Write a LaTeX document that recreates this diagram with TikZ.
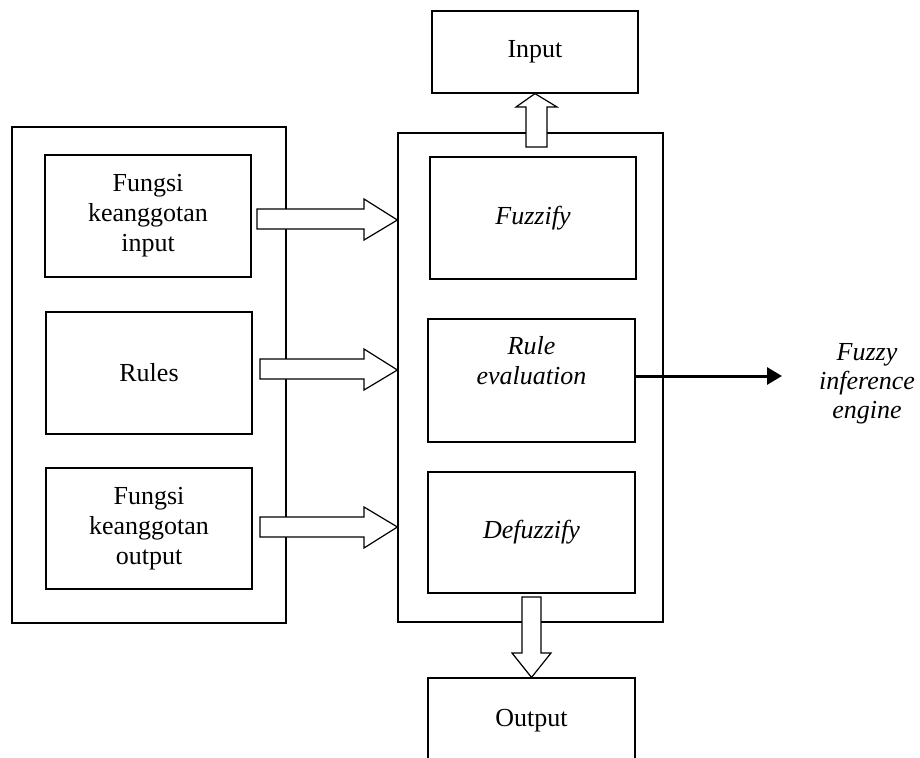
\documentclass[tikz,border=0pt]{standalone}
\usepackage{fontspec}
\setmainfont{Liberation Serif}
\usetikzlibrary{arrows.meta}
\begin{document}
\begin{tikzpicture}[x=1pt,y=-1pt,
  box/.style={draw,line width=1.2pt,inner sep=0pt,align=center,font=\fontsize{26}{30}\selectfont},
  lbl/.style={inner sep=0pt,align=center,font=\fontsize{26}{30}\selectfont},
  blockarrow/.style={draw,line width=1.2pt,fill=white,line join=miter},
  thickarrow/.style={line width=3pt,-{Triangle[length=15pt,width=17pt]}}]
\clip (0,0) rectangle (920,757);
\fill[white] (0,0) rectangle (920,757);
% outer frames
\node[box,minimum width=274pt,minimum height=496pt] (outerL) at (149,375) {};
\node[box,minimum width=265pt,minimum height=489pt] (outerR) at (530.5,377.5) {};
% left inner boxes
\node[box,minimum width=206pt,minimum height=122pt] (fin) at (148,216) {Fungsi\\keanggotan\\input};
\node[box,minimum width=206pt,minimum height=122pt] (rules) at (149,373) {Rules};
\node[box,minimum width=206pt,minimum height=121pt] (fout) at (149,528.5) {Fungsi\\keanggotan\\output};
% right inner boxes
\node[box,minimum width=206pt,minimum height=122pt] (fz) at (533,218) {\itshape Fuzzify};
\node[box,minimum width=207pt,minimum height=123pt] (re) at (531.5,380.5) {};
\node[lbl] (retext) at (531.5,361) {\itshape Rule\\\itshape evaluation};
\node[box,minimum width=207pt,minimum height=121pt] (df) at (531.5,532.5) {\itshape Defuzzify};
% input / output
\node[box,minimum width=206pt,minimum height=82pt] (in) at (535,52) {Input};
\node[box,minimum width=207pt,minimum height=100pt] (out) at (531.5,728) {};
\node[lbl] (outtext) at (531.5,721) {Output};
% block arrows left -> right
\draw[blockarrow] (257,209) -- (364,209) -- (364,199) -- (outerR.west |- 0,220) -- (364,240) -- (364,229) -- (257,229) -- cycle;
\draw[blockarrow] (260,359) -- (364,359) -- (364,349) -- (outerR.west |- 0,370) -- (364,390) -- (364,379) -- (260,379) -- cycle;
\draw[blockarrow] (260,517) -- (364,517) -- (364,507) -- (outerR.west |- 0,527) -- (364,548) -- (364,537) -- (260,537) -- cycle;
% up arrow to Input
\draw[blockarrow] (526,147) -- (526,107) -- (516,107) -- (in.south) -- (557,107) -- (547,107) -- (547,147) -- cycle;
% down arrow to Output
\draw[blockarrow] (522,597) -- (541,597) -- (541,653) -- (551,653) -- (out.north) -- (512,653) -- (522,653) -- cycle;
% rule evaluation -> fuzzy inference engine
\node[lbl,font=\fontsize{26}{29}\selectfont\itshape] (fie) at (867,384) {Fuzzy\\inference\\engine};
\coordinate (tip) at (782,376);
\draw[thickarrow] (re.east |- tip) -- (tip);
\end{tikzpicture}
\end{document}
